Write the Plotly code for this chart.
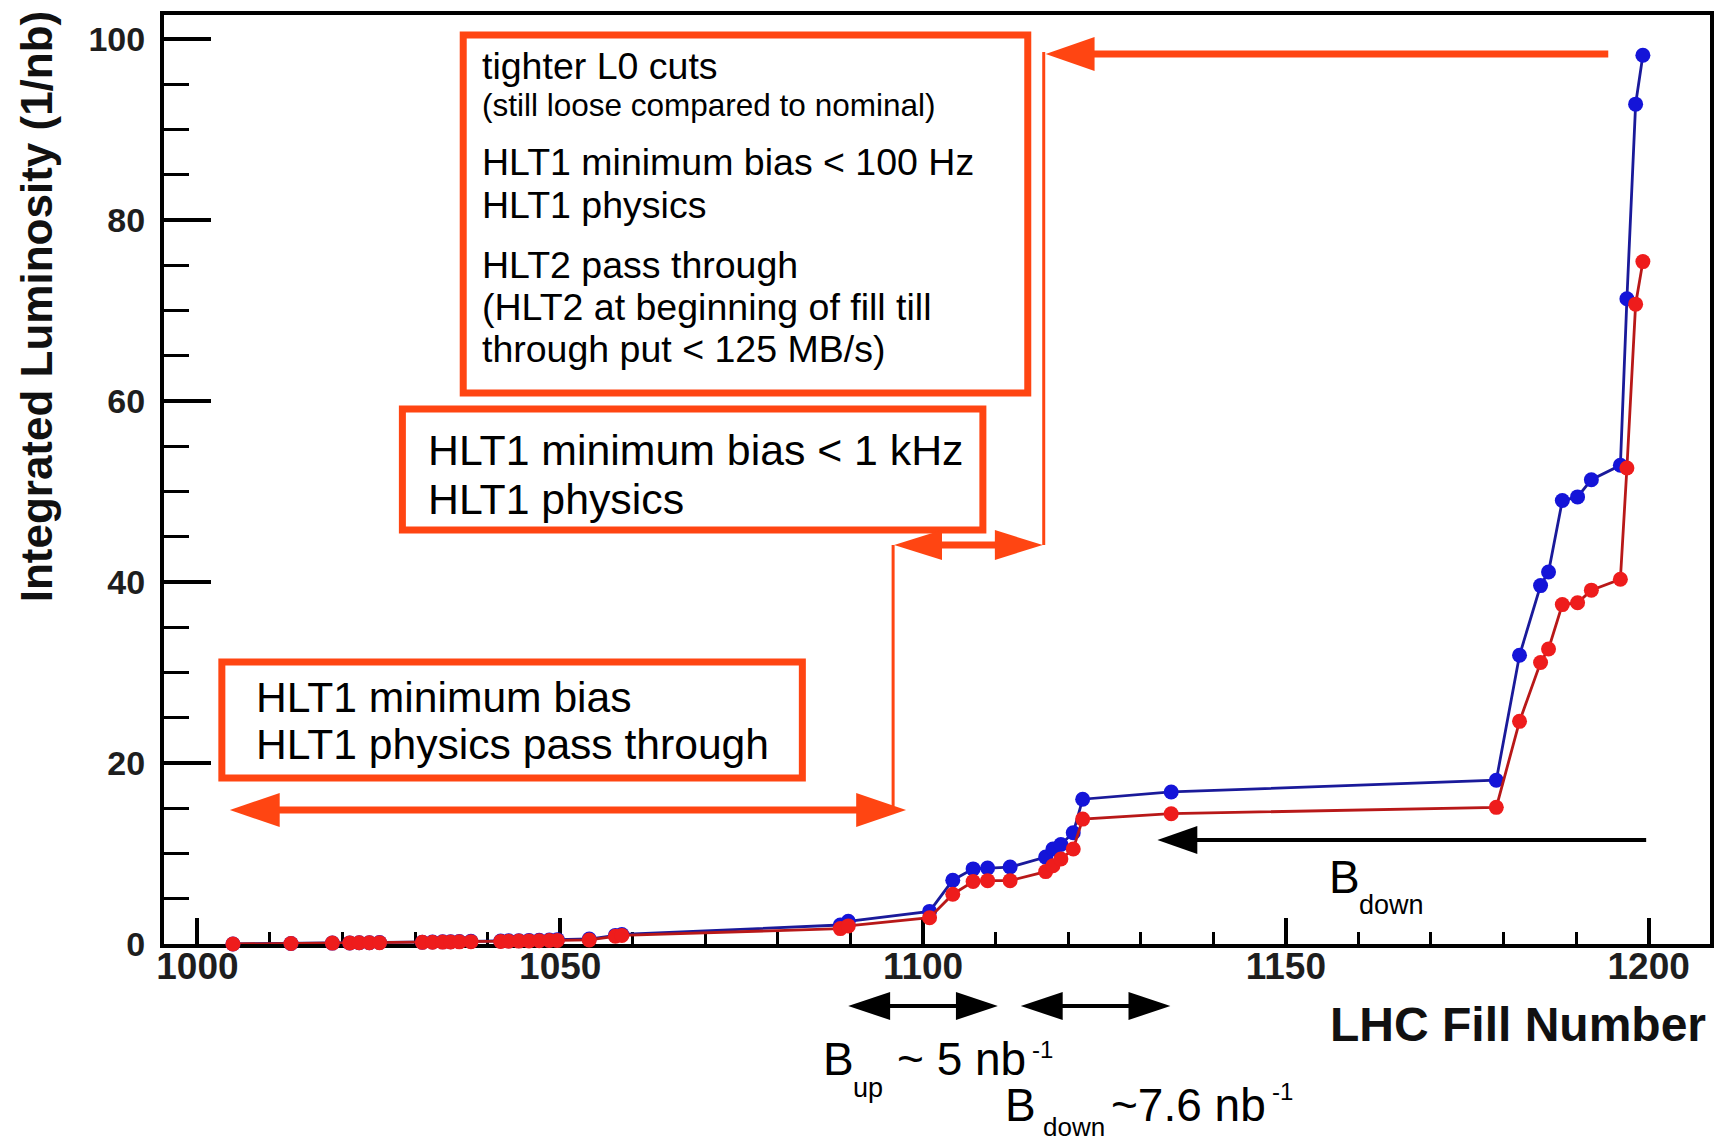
import plotly.graph_objects as go

# ---------------- data ----------------
fill_number = [1004.9, 1012.9, 1018.6, 1021.0, 1022.3, 1023.7, 1025.1, 1031.0, 1032.4, 1033.8,
               1034.9, 1036.1, 1037.7, 1041.8, 1042.9, 1044.3, 1045.7, 1047.1, 1048.5, 1049.6,
               1054.0, 1057.6, 1058.5, 1088.6, 1089.7, 1100.9, 1104.1, 1106.9, 1108.9, 1112.0,
               1116.9, 1117.9, 1119.0, 1120.7, 1122.0, 1134.2, 1179.0, 1182.2, 1185.1, 1186.2,
               1188.1, 1190.2, 1192.1, 1196.1, 1197.0, 1198.2, 1199.2]

lumi_blue = [0.0, 0.05, 0.1, 0.12, 0.14, 0.15, 0.17, 0.2, 0.22, 0.24,
             0.25, 0.27, 0.3, 0.33, 0.35, 0.37, 0.4, 0.42, 0.45, 0.48,
             0.55, 0.95, 1.05, 2.1, 2.5, 3.6, 7.05, 8.3, 8.4, 8.5,
             9.6, 10.5, 11.0, 12.3, 16.0, 16.8, 18.1, 31.9, 39.6, 41.1,
             49.0, 49.4, 51.3, 52.9, 71.3, 92.8, 98.2]

lumi_red = [0.0, 0.05, 0.1, 0.12, 0.13, 0.14, 0.15, 0.18, 0.2, 0.21,
            0.22, 0.24, 0.26, 0.29, 0.3, 0.32, 0.34, 0.36, 0.38, 0.4,
            0.45, 0.85, 0.95, 1.7, 2.0, 2.9, 5.5, 6.9, 7.0, 7.0,
            8.0, 8.65, 9.4, 10.5, 13.8, 14.4, 15.1, 24.6, 31.1, 32.6,
            37.5, 37.7, 39.1, 40.3, 52.6, 70.7, 75.4]

x_tick_values = [1000, 1050, 1100, 1150, 1200]
y_tick_values = [0, 20, 40, 60, 80, 100]

box_top_lines = ["tighter L0 cuts", "(still loose compared to nominal)",
                 "HLT1 minimum bias < 100 Hz", "HLT1 physics",
                 "HLT2 pass through", "(HLT2 at beginning of fill till",
                 "through put < 125 MB/s)"]
box_mid_lines = ["HLT1 minimum bias < 1 kHz", "HLT1 physics"]
box_low_lines = ["HLT1 minimum bias", "HLT1 physics pass through"]

x_title = "LHC Fill Number"
y_title = "Integrated Luminosity (1/nb)"

# ---------------- layout geometry (pixels) ----------------
W, H = 1719, 1144
LM, RM, TM, BM = 164, 5, 15, 200
PW = W - LM - RM
PH = H - TM - BM
ORANGE = "#ff4512"
FONT = "Liberation Sans"


def px(x):
    return (x - LM) / PW


def py(y):
    return 1 - (y - TM) / PH


shapes = []
annotations = []


def hline(x0, x1, y, w, color):
    shapes.append(dict(type="line", xref="paper", yref="paper",
                       x0=px(x0), x1=px(x1), y0=py(y), y1=py(y),
                       line=dict(color=color, width=w)))


def vline(x, y0, y1, w, color):
    shapes.append(dict(type="line", xref="paper", yref="paper",
                       x0=px(x), x1=px(x), y0=py(y0), y1=py(y1),
                       line=dict(color=color, width=w)))


def head(tip_x, y, direction, hl, hw, color):
    bx = tip_x - direction * hl
    path = "M {} {} L {} {} L {} {} Z".format(px(tip_x), py(y), px(bx), py(y - hw), px(bx), py(y + hw))
    shapes.append(dict(type="path", xref="paper", yref="paper", path=path,
                       fillcolor=color, line=dict(color=color, width=0)))


def harrow(x_a, x_b, y, hl, hw, lw, color, double):
    d = 1 if x_b > x_a else -1
    start = x_a + d * (hl - 2) if double else x_a
    hline(start, x_b - d * (hl - 2), y, lw, color)
    head(x_b, y, d, hl, hw, color)
    if double:
        head(x_a, y, -d, hl, hw, color)


def box(x0, y0, x1, y1):
    shapes.append(dict(type="rect", xref="paper", yref="paper",
                       x0=px(x0), x1=px(x1), y0=py(y0), y1=py(y1),
                       line=dict(color=ORANGE, width=7)))


def text(t, x, y, size, anchor="left", weight="normal", angle=0, color="#000000"):
    annotations.append(dict(text=t, xref="paper", yref="paper", x=px(x), y=py(y),
                            xanchor=anchor, yanchor="middle", showarrow=False,
                            textangle=angle,
                            font=dict(family=FONT, size=size, color=color, weight=weight)))


# boxes
box(464, 35, 1030, 393)
box(403, 409, 985, 530)
box(222, 662, 804, 778)

top_y = [66, 105, 162, 205, 265, 307, 349]
top_sizes = [37.5, 31.5, 37.5, 37.5, 37.5, 37.5, 37.5]
for t, yy, s in zip(box_top_lines, top_y, top_sizes):
    text(t, 481, yy, s)
for t, yy in zip(box_mid_lines, [450, 499]):
    text(t, 427, yy, 42.8)
for t, yy in zip(box_low_lines, [697, 744]):
    text(t, 254, yy, 42.6)

# orange arrows and connectors
harrow(230, 908, 810, 50, 17, 7, ORANGE, True)
vline(895, 545, 806, 3, ORANGE)
harrow(896, 1045, 545, 48, 15, 7, ORANGE, True)
vline(1046, 52, 545, 3, ORANGE)
harrow(1612, 1048, 54, 49, 17, 7, ORANGE, False)

# black arrows
harrow(1650, 1160, 840, 40, 14, 4, "#000000", False)
harrow(850, 1000, 1006, 42, 14, 4, "#000000", True)
harrow(1023, 1173, 1006, 42, 14, 4, "#000000", True)

# B labels
text("B", 1330, 877, 46)
text("down", 1360, 905, 27)
text("B", 823, 1059, 46)
text("up", 853, 1088, 27)
text("~ 5 nb", 897, 1059, 46)
text("-1", 1032, 1049, 24)
text("B", 1005, 1105, 46)
text("down", 1043, 1127, 26)
text("~7.6 nb", 1111, 1105, 46)
text("-1", 1273, 1091, 24)

# axis titles
text(x_title, 1712, 1024, 48, anchor="right", weight="bold", color="#111111")
annotations.append(dict(text=y_title, xref="paper", yref="paper", x=px(37), y=py(306),
                        xanchor="center", yanchor="middle", showarrow=False, textangle=-90,
                        font=dict(family=FONT, size=44, color="#111111", weight="bold")))

fig = go.Figure()
fig.add_trace(go.Scatter(x=fill_number, y=lumi_blue, mode="lines+markers",
                         line=dict(color="#1a1a9a", width=2.8),
                         marker=dict(color="#1414d8", size=15),
                         cliponaxis=False, showlegend=False))
fig.add_trace(go.Scatter(x=fill_number, y=lumi_red, mode="lines+markers",
                         line=dict(color="#b81818", width=2.8),
                         marker=dict(color="#ee1c1c", size=15),
                         cliponaxis=False, showlegend=False))

xtickfont = dict(family=FONT, size=37, color="#1e1e1e", weight="bold")
ytickfont = dict(family=FONT, size=34, color="#1e1e1e", weight="bold")

fig.update_layout(
    width=W, height=H, autosize=False,
    margin=dict(l=LM, r=RM, t=TM, b=BM, pad=0),
    paper_bgcolor="white", plot_bgcolor="white",
    shapes=shapes, annotations=annotations,
    xaxis=dict(range=[995.4, 1208.45], tickmode="array", tickvals=x_tick_values,
               ticktext=[str(v) for v in x_tick_values],
               ticks="inside", ticklen=26, tickwidth=4, tickcolor="black",
               showline=True, linewidth=4, linecolor="black", mirror=True,
               showgrid=False, zeroline=False, tickfont=xtickfont,
               ticklabelstandoff=-13, layer="below traces",
               minor=dict(tick0=1000, dtick=10, ticks="inside", ticklen=12, tickwidth=3,
                          tickcolor="black", showgrid=False)),
    yaxis=dict(range=[0, 102.65], tickmode="array", tickvals=y_tick_values,
               ticktext=[str(v) for v in y_tick_values],
               ticks="inside", ticklen=47, tickwidth=4, tickcolor="black",
               showline=True, linewidth=4, linecolor="black", mirror=True,
               showgrid=False, zeroline=False, tickfont=ytickfont,
               ticklabelstandoff=8, layer="below traces",
               minor=dict(tick0=0, dtick=5, ticks="inside", ticklen=25, tickwidth=3,
                          tickcolor="black", showgrid=False)),
)

fig.write_html("out.html")
